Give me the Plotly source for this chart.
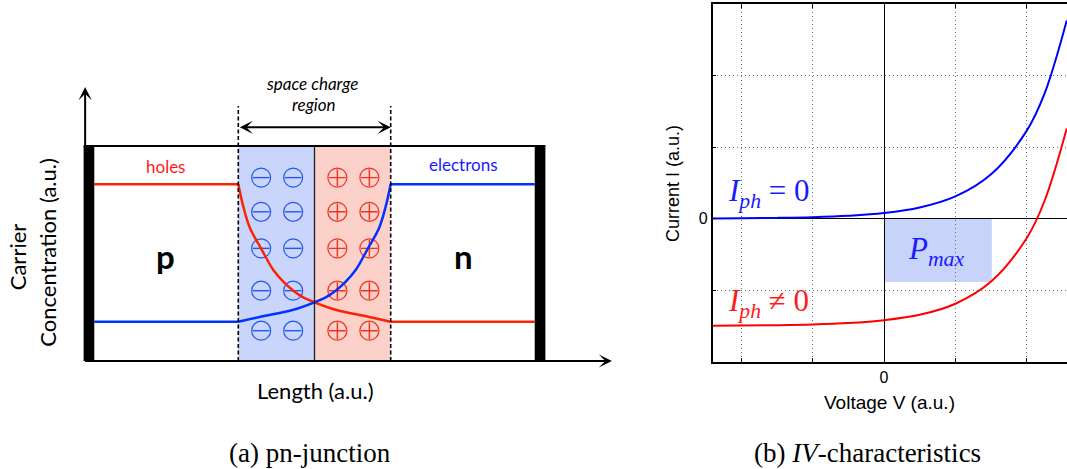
import plotly.graph_objects as go

# ---------- (a) pn-junction: carrier concentration profiles ----------
# position along the device (a.u.): depletion edges at -1 and +1, junction at 0
holes_pos = [-1.0, -0.934, -0.846, -0.702, -0.54, -0.41, -0.278, -0.147, 0.0, 0.29, 0.706, 1.0]
holes_scr = [0.822, 0.718, 0.617, 0.524, 0.423, 0.369, 0.327, 0.296, 0.273, 0.237, 0.206, 0.183]
electrons_pos = [-1.0, -0.706, -0.29, 0.0, 0.147, 0.278, 0.41, 0.54, 0.702, 0.846, 0.934, 1.0]
electrons_scr = [0.183, 0.206, 0.237, 0.273, 0.296, 0.327, 0.369, 0.423, 0.524, 0.617, 0.718, 0.822]
p_side = [-2.89, -1.0]
n_side = [1.0, 2.89]
majority_level = 0.822
minority_level = 0.183

# fixed ionised dopants inside the space charge region
acceptor_cols = [-0.70, -0.28]
donor_cols = [0.30, 0.72]
dopant_rows = [0.853, 0.694, 0.524, 0.327, 0.141]

# device outline
contact_inner, contact_outer = 2.89, 3.03
scr_left, junction, scr_right = -1.0, 0.0, 1.0
axis_x_end, axis_y_end = 3.904, 1.274
scr_marker_top, scr_arrow_level = 1.186, 1.087

# ---------- (b) IV characteristics ----------
voltage = [-2.4, -2.0, -1.5, -1.0, -0.5, 0.0, 0.5, 1.0, 1.5, 2.0, 2.25, 2.56]
current_dark = [0.003, 0.005, 0.01, 0.02, 0.04, 0.078, 0.155, 0.31, 0.62, 1.23, 1.75, 2.77]
current_light = [-1.497, -1.495, -1.49, -1.48, -1.46, -1.42, -1.345, -1.19, -0.88, -0.27, 0.25, 1.26]
mpp_voltage = 1.51
mpp_current = -0.885
v_ticks = [-2, -1, 0, 1, 2]
i_ticks = [-2, -1, 0, 1, 2, 3]

RED_LINE = "#ff2200"
BLUE_LINE = "#0033ff"
SANS_A = "Lato"
SANS_B = "Liberation Sans"
SERIF = "Liberation Serif"

fig = go.Figure()

# --- dopant charges ---
acc_x = [c for r in dopant_rows for c in acceptor_cols]
acc_y = [r for r in dopant_rows for c in acceptor_cols]
don_x = [c for r in dopant_rows for c in donor_cols]
don_y = [r for r in dopant_rows for c in donor_cols]
for xs, ys, col, sym, sz in [(acc_x, acc_y, "#2457ee", "line-ew", 12),
                             (don_x, don_y, "#ee3322", "cross-thin", 12)]:
    fig.add_trace(go.Scatter(x=xs, y=ys, mode="markers", xaxis="x", yaxis="y",
                             marker=dict(symbol="circle-open", size=19,
                                         line=dict(color=col, width=1.2), color=col),
                             hoverinfo="skip", showlegend=False))
    fig.add_trace(go.Scatter(x=xs, y=ys, mode="markers", xaxis="x", yaxis="y",
                             marker=dict(symbol=sym, size=sz,
                                         line=dict(color=col, width=1.4), color=col),
                             hoverinfo="skip", showlegend=False))

# --- carrier profiles ---
line_a = dict(width=2.5)
fig.add_trace(go.Scatter(x=p_side, y=[majority_level] * 2, mode="lines", xaxis="x", yaxis="y",
                         line=dict(color=RED_LINE, **line_a), showlegend=False, hoverinfo="skip"))
fig.add_trace(go.Scatter(x=holes_pos, y=holes_scr, mode="lines", xaxis="x", yaxis="y",
                         line=dict(color=RED_LINE, shape="spline", **line_a),
                         showlegend=False, hoverinfo="skip"))
fig.add_trace(go.Scatter(x=n_side, y=[minority_level] * 2, mode="lines", xaxis="x", yaxis="y",
                         line=dict(color=RED_LINE, **line_a), showlegend=False, hoverinfo="skip"))
fig.add_trace(go.Scatter(x=p_side, y=[minority_level] * 2, mode="lines", xaxis="x", yaxis="y",
                         line=dict(color=BLUE_LINE, **line_a), showlegend=False, hoverinfo="skip"))
fig.add_trace(go.Scatter(x=electrons_pos, y=electrons_scr, mode="lines", xaxis="x", yaxis="y",
                         line=dict(color=BLUE_LINE, shape="spline", **line_a),
                         showlegend=False, hoverinfo="skip"))
fig.add_trace(go.Scatter(x=n_side, y=[majority_level] * 2, mode="lines", xaxis="x", yaxis="y",
                         line=dict(color=BLUE_LINE, **line_a), showlegend=False, hoverinfo="skip"))

# --- IV curves ---
fig.add_trace(go.Scatter(x=voltage, y=current_dark, mode="lines", xaxis="x2", yaxis="y2",
                         line=dict(color="#0000ff", width=2, shape="spline"),
                         showlegend=False, hoverinfo="skip"))
fig.add_trace(go.Scatter(x=voltage, y=current_light, mode="lines", xaxis="x2", yaxis="y2",
                         line=dict(color="#ff0000", width=2, shape="spline"),
                         showlegend=False, hoverinfo="skip"))

shapes = []
# space charge region shading
shapes.append(dict(type="rect", xref="x", yref="y", x0=scr_left, x1=junction, y0=0, y1=1,
                   fillcolor="#c9d5fa", line_width=0, layer="below"))
shapes.append(dict(type="rect", xref="x", yref="y", x0=junction, x1=scr_right, y0=0, y1=1,
                   fillcolor="#fbd1c9", line_width=0, layer="below"))
# metallurgical junction
shapes.append(dict(type="line", xref="x", yref="y", x0=junction, x1=junction, y0=0, y1=1,
                   line=dict(color="#222", width=1.3)))
# depletion edges
for xe in (scr_left, scr_right):
    shapes.append(dict(type="line", xref="x", yref="y", x0=xe, x1=xe, y0=0, y1=scr_marker_top,
                       line=dict(color="#000", width=1.6, dash="4px,2.5px")))
# top of device
shapes.append(dict(type="line", xref="x", yref="y", x0=-contact_outer, x1=contact_outer,
                   y0=1, y1=1, line=dict(color="#000", width=2)))
# contacts
for x0, x1 in ((-contact_outer, -contact_inner), (contact_inner, contact_outer)):
    shapes.append(dict(type="rect", xref="x", yref="y", x0=x0, x1=x1, y0=0, y1=1,
                       fillcolor="#000", line_width=0))
# maximum power rectangle
shapes.append(dict(type="rect", xref="x2", yref="y2", x0=0, x1=mpp_voltage, y0=mpp_current, y1=0,
                   fillcolor="#c8d3f9", line_width=0, layer="below"))

annotations = []
arrow = dict(text="", showarrow=True, arrowhead=3, arrowsize=1.1, arrowwidth=2,
             arrowcolor="#000", standoff=0, xref="x", yref="y", axref="x", ayref="y")
annotations.append(dict(x=axis_x_end, y=0, ax=-contact_outer, ay=0, **arrow))
annotations.append(dict(x=-3.01, y=axis_y_end, ax=-3.01, ay=0, **arrow))
annotations.append(dict(x=scr_right, y=scr_arrow_level, ax=scr_left, ay=scr_arrow_level,
                        arrowside="end+start", startarrowhead=3, startarrowsize=1.1, **arrow))


def label(x, y, text, size, color="#000", family=SANS_A, ref=("x", "y"), xanchor="center", **kw):
    annotations.append(dict(x=x, y=y, xref=ref[0], yref=ref[1], text=text, showarrow=False,
                            xanchor=xanchor, yanchor="middle",
                            font=dict(family=family, size=size, color=color), **kw))


label(-0.033, 1.293, "<i>space charge</i>", 17)
label(-0.010, 1.191, "<i>region</i>", 17)
label(-1.949, 0.907, "holes", 17, color="#ff1a1a")
label(1.949, 0.912, "electrons", 17, color="#1a1aff")
label(-1.949, 0.49, "<b>p</b>", 33)
label(1.949, 0.49, "<b>n</b>", 33)
label(-3.887, 0.484, "Carrier", 22, textangle=-90)
label(-3.514, 0.507, "Concentration (a.u.)", 22, textangle=-90)
label(0.013, -0.135, "Length (a.u.)", 22)

xr2 = ("x2", "y2")
label(-2.213, 0.36, "<i>I</i><sub><i>ph</i></sub> = 0", 31, color="#1a1aff",
      family=SERIF, ref=xr2, xanchor="left")
label(-2.213, -1.18, "<i>I</i><sub><i>ph</i></sub> ≠ 0", 31, color="#ff1a1a",
      family=SERIF, ref=xr2, xanchor="left")
label(0.731, -0.45, "<i>P</i><sub><i>max</i></sub>", 31, color="#1a1aff",
      family=SERIF, ref=xr2)

pap = ("paper", "paper")
label(0.834, 0.1414, "Voltage V (a.u.)", 19, family=SANS_B, ref=pap)
label(0.6307, 0.6098, "Current I (a.u.)", 18, family=SANS_B, ref=pap, textangle=-90)
label(0.291, 0.034, "(a) pn-junction", 27, family=SERIF, ref=pap)
label(0.813, 0.034, "(b) <i>IV</i>-characteristics", 27, family=SERIF, ref=pap)

grid = dict(showgrid=True, gridcolor="#6e6e6e", griddash="1px,3px", gridwidth=1,
            zeroline=True, zerolinecolor="#000", zerolinewidth=1.2,
            showline=True, linecolor="#000", linewidth=1.5,
            ticks="inside", ticklen=4, tickcolor="#000",
            tickfont=dict(family=SANS_B, size=16, color="#000"), fixedrange=True)

fig.update_layout(
    width=1067, height=469, margin=dict(l=0, r=0, t=0, b=0),
    paper_bgcolor="white", plot_bgcolor="white", showlegend=False,
    xaxis=dict(domain=[0, 620 / 1067], range=[-4.1273, 4.0092], visible=False, fixedrange=True),
    yaxis=dict(domain=[0, 1], range=[-0.5023, 1.6791], visible=False, fixedrange=True),
    xaxis2=dict(domain=[712.7 / 1067, 1.0], range=[-2.4, 2.5636], anchor="y2",
                tickvals=v_ticks, ticktext=["0" if v == 0 else "" for v in v_ticks],
                mirror="ticks", **grid),
    yaxis2=dict(domain=[1 - 361.7 / 469, 1 - 4 / 469], range=[-2, 3], anchor="x2",
                tickvals=i_ticks, ticktext=["0" if v == 0 else "" for v in i_ticks],
                **grid),
    shapes=shapes, annotations=annotations,
)

fig.write_html("out.html", config={"displayModeBar": False})
